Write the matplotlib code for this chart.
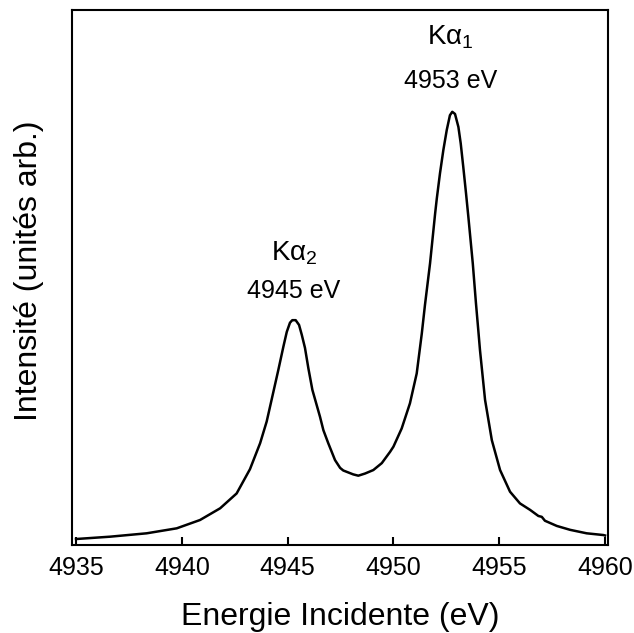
import matplotlib
matplotlib.use("Agg")
import matplotlib.pyplot as plt
import numpy as np

plt.rcParams['font.family'] = ['Liberation Sans', 'DejaVu Sans']
plt.rcParams['mathtext.fontset'] = 'custom'
plt.rcParams['mathtext.rm'] = 'Liberation Sans'
plt.rcParams['mathtext.it'] = 'Liberation Sans'
plt.rcParams['mathtext.bf'] = 'Liberation Sans'

# Spectrum (energy in eV, intensity in arb. units)
energy = [4935.00, 4936.61, 4938.34, 4939.76, 4940.86, 4941.81, 4942.59, 4943.22,
          4943.70, 4944.01, 4944.32, 4944.56, 4944.80, 4944.96, 4945.11, 4945.22,
          4945.38, 4945.54, 4945.67, 4945.82, 4945.98, 4946.17, 4946.53, 4946.69,
          4946.92, 4947.24, 4947.48, 4947.63, 4948.10, 4948.34, 4948.66, 4949.05,
          4949.45, 4949.84, 4950.00, 4950.39, 4950.78, 4951.10, 4951.34, 4951.49,
          4951.73, 4951.97, 4952.05, 4952.20, 4952.36, 4952.52, 4952.67, 4952.78,
          4952.91, 4953.07, 4953.18, 4953.30, 4953.43, 4953.54, 4953.75, 4953.90,
          4954.01, 4954.09, 4954.33, 4954.65, 4955.04, 4955.51, 4955.98, 4956.46,
          4956.85, 4957.01, 4957.16, 4957.72, 4958.35, 4959.13, 4959.92, 4960.00]
intensity = [0.0138, 0.0192, 0.027, 0.0385, 0.0577, 0.0847, 0.119, 0.175,
             0.235, 0.285, 0.352, 0.404, 0.458, 0.492, 0.513, 0.519,
             0.519, 0.508, 0.485, 0.455, 0.408, 0.358, 0.296, 0.265,
             0.235, 0.196, 0.178, 0.172, 0.163, 0.160, 0.165, 0.173,
             0.189, 0.215, 0.227, 0.269, 0.327, 0.396, 0.488, 0.554,
             0.650, 0.765, 0.800, 0.858, 0.912, 0.958, 0.992, 1.000,
             0.995, 0.965, 0.927, 0.873, 0.812, 0.758, 0.650, 0.558,
             0.496, 0.450, 0.335, 0.242, 0.173, 0.123, 0.096, 0.081,
             0.067, 0.065, 0.056, 0.044, 0.035, 0.027, 0.023, 0.022]

xticks = [4935, 4940, 4945, 4950, 4955, 4960]
peak_names = [r"K$\alpha_2$", r"K$\alpha_1$"]
peak_labels = ["4945 eV", "4953 eV"]
peak_x = [4945.3, 4952.7]

fig = plt.figure(figsize=(6.34, 6.33), dpi=100)
ax = fig.add_axes([72/634, 88/633, 536/634, 535/633])
ax.plot(energy, intensity, color='black', lw=1.8)
ax.set_xlim(4934.81, 4960.14)
ax.set_ylim(0, 1.235)
ax.set_xticks(xticks)
ax.set_yticks([])
ax.tick_params(axis='x', direction='in', length=6, width=1.5, labelsize=18, pad=8)
for s in ax.spines.values():
    s.set_linewidth(1.5)
ax.set_xlabel("Energie Incidente (eV)", fontsize=23, labelpad=16)
ax.set_ylabel("Intensité (unités arb.)", fontsize=23)
ax.yaxis.set_label_coords(-0.053, 0.512)

name_y = [0.657, 1.156]
lab_y = [0.570, 1.055]
for nm, lb, px, ny, ly in zip(peak_names, peak_labels, peak_x, name_y, lab_y):
    ax.text(px, ny, nm, ha='center', va='baseline', fontsize=20)
    ax.text(px, ly, lb, ha='center', va='baseline', fontsize=18)

fig.savefig("out.png", dpi=100)
